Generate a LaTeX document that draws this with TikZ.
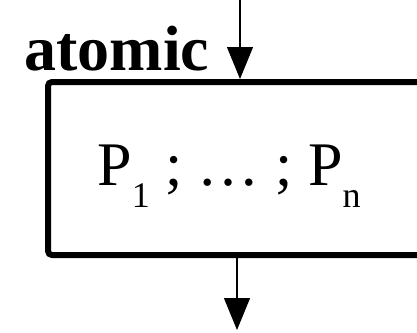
\documentclass[tikz,border=0pt]{standalone}
\usepackage{fontspec}
\setmainfont{Liberation Serif}
\usetikzlibrary{arrows.meta}
\newcommand{\lowidx}[1]{\raisebox{-11pt}{\fontsize{18}{18}\selectfont #1}}
\begin{document}
\begin{tikzpicture}[
  x=0.5pt, y=-0.5pt,
  >={Triangle[length=16pt,width=13pt]},
  flow/.style={->,line width=0.6pt},
  frame/.style={draw,line width=3pt,rounded corners=2pt,
    minimum width=196pt,minimum height=86.5pt,inner sep=0pt}
]
  \useasboundingbox (0,0) rectangle (417,332);
  \clip (0,0) rectangle (417,332);

  \node[frame] (box) at (244,168.5) {};
  \node[anchor=base west,inner sep=0pt,font=\bfseries\fontsize{32}{32}\selectfont] (title) at (24,70) {atomic};
  \node[anchor=base,inner sep=0pt,font=\fontsize{31}{31}\selectfont] (body) at (229,185)
    {P\lowidx{1} ; … ; P\lowidx{n}};

  \coordinate (in)  at (240,0);
  \coordinate (out) at (237,330);
  \draw[flow] (in) -- (in |- box.north);
  \draw[flow] (box.south -| out) -- (out);
\end{tikzpicture}
\end{document}
